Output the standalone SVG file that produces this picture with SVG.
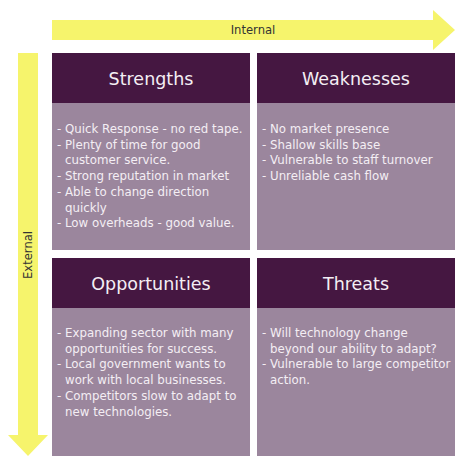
<svg xmlns="http://www.w3.org/2000/svg" width="474" height="474" viewBox="0 0 474 474">
<style>
.hdr{fill:#451741}
.bdy{fill:#9b869d}
.arr{fill:#f6f46c}
.ttl{font-family:"DejaVu Sans",Verdana,sans-serif;font-size:17.5px;fill:#f4eef4;text-anchor:middle}
.txt{font-family:"DejaVu Sans",Verdana,sans-serif;font-size:11.8px;fill:#f4eef4}
.lbl{font-family:"DejaVu Sans",Verdana,sans-serif;font-size:11.6px;fill:#333333;text-anchor:middle}
</style>
<rect width="474" height="474" fill="#ffffff"/>
<g id="connectors">
<polygon class="arr" points="52,20 433,20 433,10 455,30 433,50 433,40 52,40"/>
<polygon class="arr" points="18,53 38,53 38,435 48,435 28,456 8,435 18,435"/>
<text class="lbl" x="253" y="34">Internal</text>
<text class="lbl" transform="translate(32,255) rotate(-90)">External</text>
</g>
<g id="strengths">
<rect class="hdr" x="52" y="53" width="198" height="50"/>
<rect class="bdy" x="52" y="103" width="198" height="147"/>
<text class="ttl" x="151" y="85">Strengths</text>
<text class="txt" x="57" y="133">- Quick Response - no red tape.</text>
<text class="txt" x="57" y="148.7">- Plenty of time for good</text>
<text class="txt" x="65" y="164.4">customer service.</text>
<text class="txt" x="57" y="180.1">- Strong reputation in market</text>
<text class="txt" x="57" y="195.8">- Able to change direction</text>
<text class="txt" x="65" y="211.5">quickly</text>
<text class="txt" x="57" y="227.2">- Low overheads - good value.</text>
</g>
<g id="weaknesses">
<rect class="hdr" x="257" y="53" width="198" height="50"/>
<rect class="bdy" x="257" y="103" width="198" height="147"/>
<text class="ttl" x="356" y="85">Weaknesses</text>
<text class="txt" x="262" y="133">- No market presence</text>
<text class="txt" x="262" y="148.7">- Shallow skills base</text>
<text class="txt" x="262" y="164.4">- Vulnerable to staff turnover</text>
<text class="txt" x="262" y="180.1">- Unreliable cash flow</text>
</g>
<g id="opportunities">
<rect class="hdr" x="52" y="258" width="198" height="50"/>
<rect class="bdy" x="52" y="308" width="198" height="148"/>
<text class="ttl" x="151" y="290">Opportunities</text>
<text class="txt" x="57" y="337">- Expanding sector with many</text>
<text class="txt" x="65" y="352.7">opportunities for success.</text>
<text class="txt" x="57" y="368.4">- Local government wants to</text>
<text class="txt" x="65" y="384.1">work with local businesses.</text>
<text class="txt" x="57" y="399.8">- Competitors slow to adapt to</text>
<text class="txt" x="65" y="415.5">new technologies.</text>
</g>
<g id="threats">
<rect class="hdr" x="257" y="258" width="198" height="50"/>
<rect class="bdy" x="257" y="308" width="198" height="148"/>
<text class="ttl" x="356" y="290">Threats</text>
<text class="txt" x="262" y="337">- Will technology change</text>
<text class="txt" x="270" y="352.7">beyond our ability to adapt?</text>
<text class="txt" x="262" y="368.4">- Vulnerable to large competitor</text>
<text class="txt" x="270" y="384.1">action.</text>
</g>
</svg>
